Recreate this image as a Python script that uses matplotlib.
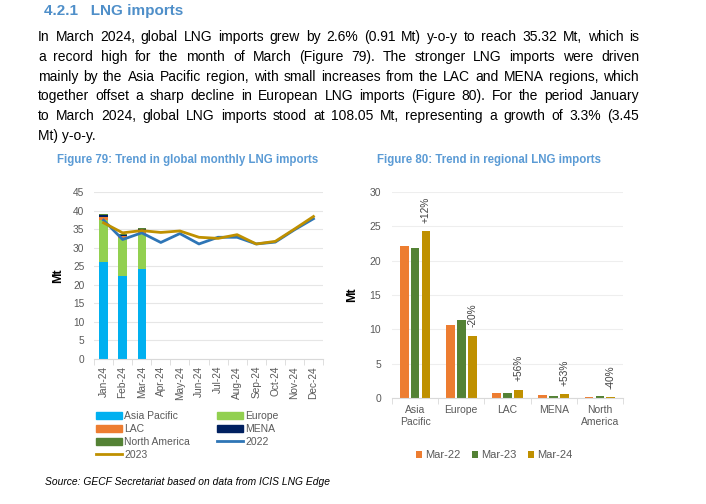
import matplotlib
matplotlib.use("Agg")
import matplotlib.pyplot as plt
import numpy as np
from matplotlib.patches import Patch
from matplotlib.lines import Line2D

plt.rcParams['font.family'] = ['Liberation Sans', 'DejaVu Sans']

# Figure 79 data
months = ["Jan-24", "Feb-24", "Mar-24", "Apr-24", "May-24", "Jun-24",
          "Jul-24", "Aug-24", "Sep-24", "Oct-24", "Nov-24", "Dec-24"]
asia_pacific = [26.2, 22.5, 24.3]
europe = [11.2, 10.0, 9.5]
lac = [0.9, 0.7, 0.9]
mena = [0.4, 0.3, 0.4]
north_america = [0.5, 0.2, 0.2]
y2022 = [37.4, 32.2, 34.0, 31.4, 33.8, 31.0, 32.8, 32.8, 31.0, 31.5, 34.8, 37.8]
y2023 = [36.7, 34.0, 34.6, 34.1, 34.5, 32.8, 32.5, 33.5, 31.0, 31.7, 35.0, 38.4]

# Figure 80 data
regions = ["Asia\nPacific", "Europe", "LAC", "MENA", "North\nAmerica"]
mar22 = [22.1, 10.7, 0.75, 0.45, 0.1]
mar23 = [21.8, 11.4, 0.8, 0.35, 0.25]
mar24 = [24.3, 9.1, 1.2, 0.55, 0.15]
changes = ["+12%", "-20%", "+56%", "+53%", "-40%"]

C_AP, C_EU, C_LAC, C_MENA, C_NA = "#00b0f0", "#92d050", "#ed7d31", "#002060", "#548235"
C_22, C_23 = "#2e75b6", "#bf9000"
GRAY = "#595959"
BLUE_T = "#4f8fc9"

fig = plt.figure(figsize=(7.06, 5.04), dpi=100)
renderer = fig.canvas.get_renderer()

# heading + paragraph
fig.text(44 / 706, 1 - 11 / 504, "4.2.1   LNG imports", color=BLUE_T, fontsize=11,
         fontweight="bold", va="center")

para = [
    "In March 2024, global LNG imports grew by 2.6% (0.91 Mt) y-o-y to reach 35.32 Mt, which is",
    "a record high for the month of March (Figure 79). The stronger LNG imports were driven",
    "mainly by the Asia Pacific region, with small increases from the LAC and MENA regions, which",
    "together offset a sharp decline in European LNG imports (Figure 80). For the period January",
    "to March 2024, global LNG imports stood at 108.05 Mt, representing a growth of 3.3% (3.45",
    "Mt) y-o-y.",
]
x0, x1 = 38, 639
for i, line in enumerate(para):
    y = 1 - (37 + i * 19.8) / 504
    words = line.split(" ")
    if i == len(para) - 1:
        fig.text(x0 / 706, y, line, fontsize=10, va="center", color="black")
        continue
    texts = [fig.text(0, y, w, fontsize=10, va="center", color="black") for w in words]
    widths = [t.get_window_extent(renderer).width for t in texts]
    gap = (x1 - x0 - sum(widths)) / (len(words) - 1)
    xp = x0
    for t, w in zip(texts, widths):
        t.set_x(xp / 706)
        xp += w + gap

# Figure 79
fig.text(188 / 706, 1 - 160 / 504, "Figure 79: Trend in global monthly LNG imports",
         color="#5b9bd5", fontsize=8.3, fontweight="bold", ha="center", va="center")
ax1 = fig.add_axes([94 / 706, 1 - 359 / 504, 229 / 706, 167 / 504])
x = np.arange(len(months))
xb = x[:len(asia_pacific)]
bw = 0.44
bottom = np.zeros(len(asia_pacific))
for vals, col in [(asia_pacific, C_AP), (europe, C_EU), (lac, C_LAC), (mena, C_MENA), (north_america, C_NA)]:
    ax1.bar(xb, vals, bw, bottom=bottom, color=col, zorder=2)
    bottom += np.array(vals)
ax1.plot(x, y2022, color=C_22, lw=2.0, zorder=3)
ax1.plot(x, y2023, color=C_23, lw=2.0, zorder=4)
ax1.set_ylim(0, 45)
ax1.set_xlim(-0.5, len(months) - 0.5)
ax1.set_yticks(range(0, 46, 5))
ax1.set_xticks(x)
ax1.set_xticklabels(months, rotation=90)
ax1.set_xticks(np.arange(-0.5, len(months)), minor=True)
ax1.tick_params(axis="x", which="major", length=0, labelsize=7.3, colors=GRAY, pad=5)
ax1.tick_params(axis="x", which="minor", length=4, color="#d9d9d9")
ax1.tick_params(axis="y", length=0, labelsize=7.3, colors=GRAY, pad=7)
ax1.grid(axis="y", color="#e6e6e6", lw=0.8, zorder=0)
for s in ["top", "right", "left"]:
    ax1.spines[s].set_visible(False)
ax1.spines["bottom"].set_color("#d9d9d9")
ax1.set_ylabel("Mt", fontweight="bold", fontsize=9, labelpad=6)

handles = [Patch(color=C_AP), Patch(color=C_LAC), Patch(color=C_NA), Line2D([], [], color=C_23, lw=2.0),
           Patch(color=C_EU), Patch(color=C_MENA), Line2D([], [], color=C_22, lw=2.0)]
labels = ["Asia Pacific", "LAC", "North America", "2023", "Europe", "MENA", "2022"]
fig.legend(handles, labels, ncol=2, loc="upper left", bbox_to_anchor=(96 / 706, 1 - 411 / 504),
           frameon=False, fontsize=7.5, handlelength=2.5, handleheight=0.65, columnspacing=2.6,
           labelspacing=0.28, handletextpad=0.2, labelcolor=GRAY, borderpad=0, borderaxespad=0)

# Figure 80
fig.text(489 / 706, 1 - 160 / 504, "Figure 80: Trend in regional LNG imports",
         color="#5b9bd5", fontsize=8.3, fontweight="bold", ha="center", va="center")
ax2 = fig.add_axes([392 / 706, 1 - 398 / 504, 231 / 706, 206 / 504])
xr = np.arange(len(regions))
w = 0.19
off = 0.235
ax2.bar(xr - off, mar22, w, color=C_LAC, label="Mar-22", zorder=2)
ax2.bar(xr, mar23, w, color=C_NA, label="Mar-23", zorder=2)
ax2.bar(xr + off, mar24, w, color=C_23, label="Mar-24", zorder=2)
for xi, v, lab in zip(xr, mar24, changes):
    ax2.annotate(lab, (xi + off, v), xytext=(0, 6), textcoords="offset points",
                 rotation=90, ha="center", va="bottom", fontsize=7.3, color="#404040")
ax2.set_ylim(0, 30)
ax2.set_xlim(-0.5, len(regions) - 0.5)
ax2.set_yticks(range(0, 31, 5))
ax2.set_xticks(xr)
ax2.set_xticklabels(regions, linespacing=1.3)
ax2.set_xticks(np.arange(-0.5, len(regions)), minor=True)
ax2.tick_params(axis="x", which="major", length=0, labelsize=7.5, colors=GRAY, pad=5)
ax2.tick_params(axis="x", which="minor", length=4, color="#d9d9d9")
ax2.tick_params(axis="y", length=0, labelsize=7.5, colors=GRAY, pad=8)
ax2.grid(axis="y", color="#eeeeee", lw=0.8, zorder=0)
for s in ["top", "right", "left"]:
    ax2.spines[s].set_visible(False)
ax2.spines["bottom"].set_color("#d9d9d9")
ax2.set_ylabel("Mt", fontweight="bold", fontsize=9, labelpad=8)
fig.legend(*ax2.get_legend_handles_labels(), loc="center", bbox_to_anchor=(494 / 706, 1 - 455 / 504),
           ncol=3, frameon=False, fontsize=8, handlelength=0.6, handleheight=0.6,
           handletextpad=0.25, columnspacing=1.0, labelcolor=GRAY)

fig.text(45 / 706, 1 - 482 / 504, "Source: GECF Secretariat based on data from ICIS LNG Edge",
         fontsize=7.4, style="italic", va="center", color="black")

fig.savefig("out.png", dpi=100)
